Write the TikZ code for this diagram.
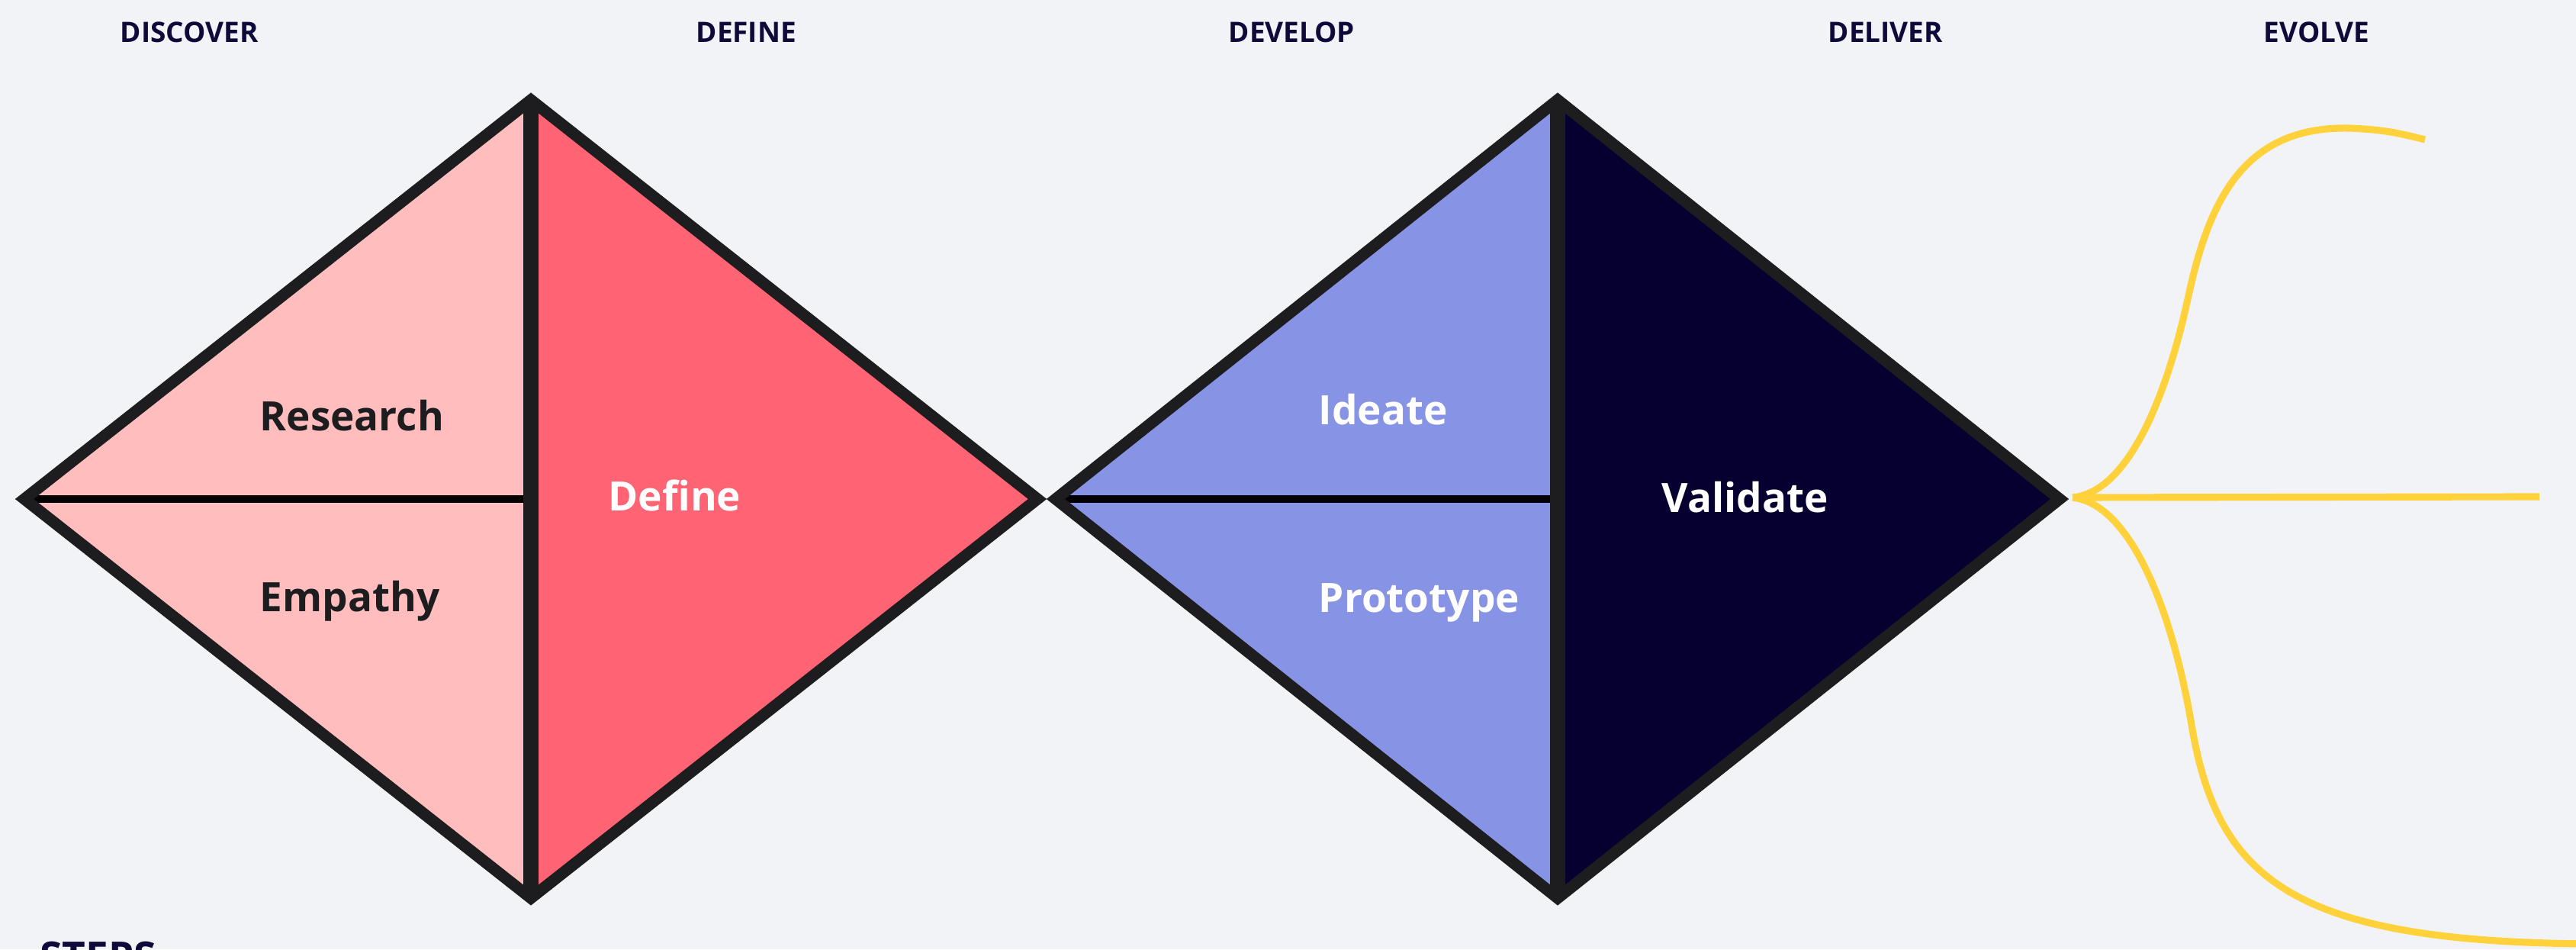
\documentclass[tikz,border=0pt]{standalone}
\usepackage{fontspec}
\setmainfont{Open Sans}
\usepackage{tikz}
\definecolor{bg}{HTML}{F2F3F7}
\definecolor{ink}{HTML}{0E0B3B}
\definecolor{edge}{HTML}{1D1D1F}
\definecolor{pinklight}{HTML}{FFBDBD}
\definecolor{pinkred}{HTML}{FF6474}
\definecolor{lilac}{HTML}{8793E5}
\definecolor{navy}{HTML}{05002F}
\definecolor{gold}{HTML}{FFD23C}
\tikzset {phase/.style={anchor=base west,inner sep=0pt,text=ink,font=\bfseries\fontsize{10.5}{12}\selectfont}}
\tikzset {stage/.style={anchor=base west,inner sep=0pt,font=\bfseries\fontsize{15.1}{18}\selectfont}}
\tikzset {outline/.style={draw=edge,line width=4.3pt,line join=miter}}
\tikzset {divider/.style={draw=edge,line width=5.7pt}}
\tikzset {split/.style={draw=black,line width=2.8pt}}
\tikzset {branch/.style={draw=gold,line width=2.6pt}}

\begin{document}
\begin{tikzpicture}
\useasboundingbox (0,0) rectangle (33.77,12.44);
\fill[bg] (0,0) rectangle (33.77,12.44);
\clip (0,0) rectangle (33.77,12.44);

% phase titles
\node[phase] (discover) at (1.57,11.88) {DISCOVER};
\node[phase] (define) at (9.12,11.88) {DEFINE};
\node[phase] (develop) at (16.10,11.88) {DEVELOP};
\node[phase] (deliver) at (23.96,11.88) {DELIVER};
\node[phase] (evolve) at (29.67,11.88) {EVOLVE};

% first diamond
\coordinate (aL) at (0.32,5.90);
\coordinate (aT) at (6.96,11.13);
\coordinate (aR) at (13.60,5.90);
\coordinate (aB) at (6.96,0.67);
\coordinate (aC) at (6.96,5.90);
\fill[pinklight] (aL) -- (aT) -- (aB) -- cycle;
\fill[pinkred] (aT) -- (aR) -- (aB) -- cycle;
\draw[split] (aL) -- (aC);
\draw[outline] (aL) -- (aT) -- (aR) -- (aB) -- cycle;
\draw[divider] (aT) -- (aB);

% second diamond
\coordinate (bL) at (13.84,5.90);
\coordinate (bT) at (20.42,11.13);
\coordinate (bR) at (27.00,5.90);
\coordinate (bB) at (20.42,0.67);
\coordinate (bC) at (20.42,5.90);
\fill[lilac] (bL) -- (bT) -- (bB) -- cycle;
\fill[navy] (bT) -- (bR) -- (bB) -- cycle;
\draw[split] (bL) -- (bC);
\draw[outline] (bL) -- (bT) -- (bR) -- (bB) -- cycle;
\draw[divider] (bT) -- (bB);

\node[stage,text=edge] (research) at (3.40,6.79) {Research};
\node[stage,text=edge] (empathy) at (3.40,4.42) {Empathy};
\node[stage,text=white] (definelbl) at (7.97,5.74) {Define};
\node[stage,text=white] (ideate) at (17.28,6.87) {Ideate};
\node[stage,text=white] (prototype) at (17.28,4.41) {Prototype};
\node[stage,text=white] (validate) at (21.78,5.72) {Validate};

% evolve fork
\coordinate (fork) at (27.17,5.92);
\coordinate (upper) at (31.79,10.61);
\coordinate (middle) at (33.29,5.93);
\coordinate (lower) at (34.00,0.07);
\draw[branch] (fork) .. controls (27.90,5.99) and (28.40,7.24) .. (28.68,8.52)
  .. controls (28.95,9.79) and (29.40,10.79) .. (30.80,10.76)
  .. controls (31.30,10.74) and (31.50,10.68) .. (upper);
\draw[branch] (fork) -- (middle);
\draw[branch] (fork) .. controls (27.90,5.84) and (28.45,4.54) .. (28.72,3.00)
  .. controls (29.05,0.94) and (30.00,0.09) .. (lower);

\node[stage,text=ink,font=\fontseries{eb}\bfseries\fontsize{15.1}{18}\selectfont] (steps) at (0.52,-0.29) {STEPS};
\end{tikzpicture}
\end{document}
